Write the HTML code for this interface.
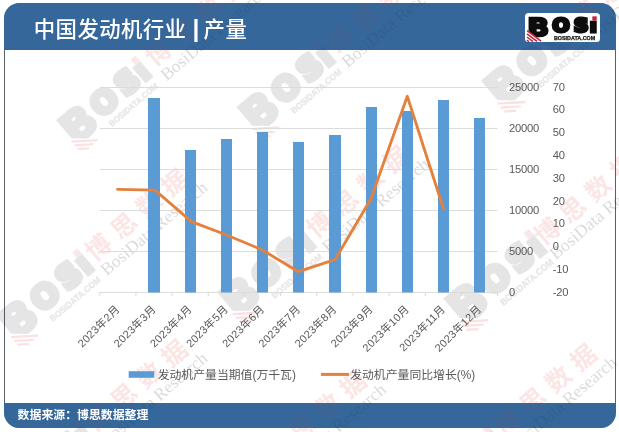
<!DOCTYPE html>
<html lang="zh-CN">
<head>
<meta charset="utf-8">
<title>中国发动机行业 | 产量</title>
<style>
html,body{margin:0;padding:0;background:#fff;}
body{width:619px;height:432px;position:relative;overflow:hidden;font-family:"Liberation Sans","Noto Sans CJK SC",sans-serif;}
.card{position:absolute;left:4px;top:3px;width:612px;height:424.5px;border-radius:15.5px;overflow:hidden;background:#fff;}
.hdr{position:absolute;left:0;top:0;width:612px;height:46.9px;background:#35679a;}
.ftr{position:absolute;left:0;top:400px;width:612px;height:24.5px;background:#35679a;}
.over{background:transparent;}
.over .hdr,.over .ftr{background:rgba(53,103,154,0.5);}
.bl{position:absolute;top:46px;height:355px;width:1.1px;background:#5a6068;}
.title{position:absolute;left:33.8px;top:14.2px;color:#fff;font-size:21.4px;line-height:32px;white-space:nowrap;font-weight:500;letter-spacing:0.4px;}
.bar{display:inline-block;font-weight:700;transform:scale(1.15,1.12);transform-origin:50% 60%;margin-left:0.4px;margin-right:-2.2px;}
.src{position:absolute;left:17.6px;top:405px;color:#fff;font-size:11.9px;line-height:20px;font-weight:700;white-space:nowrap;}
svg{position:absolute;left:0;top:0;}
.base{z-index:0;}
.wm{z-index:2;}
.over{z-index:3;}
.chart{z-index:4;}
.title,.logo,.src{z-index:5;}
.ax{font-size:11.2px;letter-spacing:-0.25px;fill:#595959;font-family:"Liberation Sans",sans-serif;}
.cat{font-size:10.9px;letter-spacing:0.3px;fill:#595959;font-family:"Liberation Sans","Noto Sans CJK SC",sans-serif;}
.lg{font-size:11.85px;fill:#595959;font-family:"Liberation Sans","Noto Sans CJK SC",sans-serif;}
.wc{font-family:"Noto Sans CJK SC","Liberation Sans",sans-serif;font-weight:700;font-size:25px;letter-spacing:8.3px;fill:#e03030;fill-opacity:0.125;}
.wr{font-family:"Liberation Serif",serif;font-size:17.5px;fill:#000;fill-opacity:0.15;}
.logo{position:absolute;left:525px;top:12.7px;width:75.4px;height:28.9px;background:#fff;border-radius:3.5px;overflow:hidden;}
.logo svg{left:0;top:0;}
</style>
</head>
<body>
<div class="card base">
  <div class="hdr"></div>
  <div class="ftr"></div>
  <div class="bl" style="left:0"></div>
  <div class="bl" style="right:0"></div>
</div>
<div class="title">中国发动机行业 <span class="bar">|</span> 产量</div>
<div class="logo">
<svg width="76" height="30" viewBox="0 0 76 30">
<text x="2.2" y="23.2" font-family="DejaVu Sans, Liberation Sans, sans-serif" font-weight="700" font-size="25.5" fill="#0c0c0c" stroke="#0c0c0c" stroke-width="2.4" stroke-linejoin="miter" textLength="22" lengthAdjust="spacingAndGlyphs" clip-path="url(#bcut)">B</text>
<text transform="scale(1.1,1)" x="5.4 24.66 44.24 58.8" y="18.9" font-family="DejaVu Sans, Liberation Sans, sans-serif" font-weight="700" font-size="18.7" fill="url(#lp)" stroke="url(#lp)" stroke-width="3" stroke-linejoin="miter" clip-path="url(#ocut)">BOSi</text>
<text x="28.9" y="27.4" font-family="Liberation Sans, sans-serif" font-weight="700" font-size="5.6" fill="#111" stroke="#111" stroke-width="0.25" textLength="41.4" lengthAdjust="spacingAndGlyphs">BOSIDATA.COM</text>
<g stroke="#c2283a" stroke-width="1.5">
<line x1="2" y1="17.6" x2="16" y2="28.2"/>
<line x1="2" y1="20.8" x2="12" y2="28.4"/>
<line x1="2" y1="24" x2="8" y2="28.6"/>
<line x1="2" y1="27.2" x2="4" y2="28.8"/>
</g>
</svg>
</div>
<svg class="chart" width="619" height="432" viewBox="0 0 619 432">
<line x1="99.75" y1="87.50" x2="497.5" y2="87.50" stroke="#dcdcdc" stroke-width="1"/>
<line x1="99.75" y1="128.50" x2="497.5" y2="128.50" stroke="#dcdcdc" stroke-width="1"/>
<line x1="99.75" y1="169.50" x2="497.5" y2="169.50" stroke="#dcdcdc" stroke-width="1"/>
<line x1="99.75" y1="210.50" x2="497.5" y2="210.50" stroke="#dcdcdc" stroke-width="1"/>
<line x1="99.75" y1="251.50" x2="497.5" y2="251.50" stroke="#dcdcdc" stroke-width="1"/>
<line x1="99.75" y1="292.50" x2="497.5" y2="292.50" stroke="#dcdcdc" stroke-width="1"/>
<line x1="99.75" y1="292.5" x2="99.75" y2="296.0" stroke="#d9d9d9" stroke-width="1"/>
<line x1="135.92" y1="292.5" x2="135.92" y2="296.0" stroke="#d9d9d9" stroke-width="1"/>
<line x1="172.09" y1="292.5" x2="172.09" y2="296.0" stroke="#d9d9d9" stroke-width="1"/>
<line x1="208.26" y1="292.5" x2="208.26" y2="296.0" stroke="#d9d9d9" stroke-width="1"/>
<line x1="244.43" y1="292.5" x2="244.43" y2="296.0" stroke="#d9d9d9" stroke-width="1"/>
<line x1="280.60" y1="292.5" x2="280.60" y2="296.0" stroke="#d9d9d9" stroke-width="1"/>
<line x1="316.77" y1="292.5" x2="316.77" y2="296.0" stroke="#d9d9d9" stroke-width="1"/>
<line x1="352.94" y1="292.5" x2="352.94" y2="296.0" stroke="#d9d9d9" stroke-width="1"/>
<line x1="389.11" y1="292.5" x2="389.11" y2="296.0" stroke="#d9d9d9" stroke-width="1"/>
<line x1="425.28" y1="292.5" x2="425.28" y2="296.0" stroke="#d9d9d9" stroke-width="1"/>
<line x1="461.45" y1="292.5" x2="461.45" y2="296.0" stroke="#d9d9d9" stroke-width="1"/>
<line x1="497.62" y1="292.5" x2="497.62" y2="296.0" stroke="#d9d9d9" stroke-width="1"/>
<rect x="148" y="98" width="12" height="194.50" fill="#5b9bd5"/>
<rect x="185" y="150" width="11" height="142.50" fill="#5b9bd5"/>
<rect x="221" y="139" width="11" height="153.50" fill="#5b9bd5"/>
<rect x="257" y="132" width="11" height="160.50" fill="#5b9bd5"/>
<rect x="293" y="142" width="11" height="150.50" fill="#5b9bd5"/>
<rect x="329" y="135" width="12" height="157.50" fill="#5b9bd5"/>
<rect x="366" y="107" width="11" height="185.50" fill="#5b9bd5"/>
<rect x="402" y="111" width="11" height="181.50" fill="#5b9bd5"/>
<rect x="438" y="100" width="11" height="192.50" fill="#5b9bd5"/>
<rect x="474" y="118" width="11" height="174.50" fill="#5b9bd5"/>
<polyline points="117.6,189.4 155.0,190.2 191.4,221.6 226.6,235 262.4,250 298.3,271.7 335.0,259.7 370.8,199 407.3,96.3 443.4,208.5" fill="none" stroke="#e5813c" stroke-width="2.85" stroke-linejoin="round" stroke-linecap="round"/>
<text x="509.1" y="90.70" class="ax">25000</text>
<text x="509.1" y="131.70" class="ax">20000</text>
<text x="509.1" y="172.70" class="ax">15000</text>
<text x="509.1" y="213.70" class="ax">10000</text>
<text x="509.1" y="254.70" class="ax">5000</text>
<text x="509.1" y="295.70" class="ax">0</text>
<text x="552.7" y="90.70" class="ax">70</text>
<text x="552.7" y="113.48" class="ax">60</text>
<text x="552.7" y="136.26" class="ax">50</text>
<text x="552.7" y="159.03" class="ax">40</text>
<text x="552.7" y="181.81" class="ax">30</text>
<text x="552.7" y="204.59" class="ax">20</text>
<text x="552.7" y="227.37" class="ax">10</text>
<text x="552.7" y="250.14" class="ax">0</text>
<text x="552.7" y="272.92" class="ax">-10</text>
<text x="552.7" y="295.70" class="ax">-20</text>
<text transform="translate(120.44,309.8) rotate(-45)" text-anchor="end" class="cat">2023年2月</text>
<text transform="translate(156.60,309.8) rotate(-45)" text-anchor="end" class="cat">2023年3月</text>
<text transform="translate(192.78,309.8) rotate(-45)" text-anchor="end" class="cat">2023年4月</text>
<text transform="translate(228.94,309.8) rotate(-45)" text-anchor="end" class="cat">2023年5月</text>
<text transform="translate(265.12,309.8) rotate(-45)" text-anchor="end" class="cat">2023年6月</text>
<text transform="translate(301.29,309.8) rotate(-45)" text-anchor="end" class="cat">2023年7月</text>
<text transform="translate(337.46,309.8) rotate(-45)" text-anchor="end" class="cat">2023年8月</text>
<text transform="translate(373.63,309.8) rotate(-45)" text-anchor="end" class="cat">2023年9月</text>
<text transform="translate(409.80,309.8) rotate(-45)" text-anchor="end" class="cat">2023年10月</text>
<text transform="translate(445.97,309.8) rotate(-45)" text-anchor="end" class="cat">2023年11月</text>
<text transform="translate(482.14,309.8) rotate(-45)" text-anchor="end" class="cat">2023年12月</text>
<rect x="128.7" y="371.2" width="25.6" height="6.6" fill="#5b9bd5"/>
<text x="157.7" y="379.3" class="lg">发动机产量当期值(万千瓦)</text>
<line x1="321" y1="374.4" x2="348.9" y2="374.4" stroke="#e5813c" stroke-width="3"/>
<text x="350.2" y="379.3" class="lg">发动机产量同比增长(%)</text>
</svg>
<div class="src">数据来源：博思数据整理</div>
<svg class="wm" width="619" height="432" viewBox="0 0 619 432">
<defs><clipPath id="bcut"><polygon points="0,-5 80,-5 80,35 25.4,35 0,15.2"/></clipPath><clipPath id="bcut2"><polygon points="0,-8 80,-8 80,34 25.4,33.5 0,13.7"/></clipPath><clipPath id="ocut"><rect x="22.4" y="-10" width="90" height="60"/></clipPath><pattern id="lp" patternUnits="userSpaceOnUse" x="0" y="0" width="200" height="100"><rect x="0" y="0" width="58.4" height="100" fill="#0c0c0c"/><rect x="58.4" y="7.7" width="100" height="90" fill="#0c0c0c"/><rect x="61.4" y="3.3" width="4" height="4.4" fill="#c2283a"/></pattern></defs>
<g transform="translate(80,126) rotate(-40.5)">
<g transform="scale(1.5) translate(-13.1,-13.4)">
<g opacity="0.10">
<g transform="translate(0,20.5) scale(1,1.1) translate(0,-20.5)"><text x="2.2" y="21.7" font-family="DejaVu Sans, Liberation Sans, sans-serif" font-weight="700" font-size="25.5" fill="#0c0c0c" stroke="#0c0c0c" stroke-width="2.4" stroke-linejoin="miter" textLength="22" lengthAdjust="spacingAndGlyphs" clip-path="url(#bcut2)">B</text>
<text transform="scale(1.1,1)" x="5.4 24.66 44.24 58.8" y="18.9" font-family="DejaVu Sans, Liberation Sans, sans-serif" font-weight="700" font-size="18.7" fill="url(#lp)" stroke="url(#lp)" stroke-width="3" stroke-linejoin="miter" clip-path="url(#ocut)">BOSi</text></g>
<text x="28.9" y="27.8" font-family="Liberation Sans, sans-serif" font-weight="700" font-size="5.7" fill="#000" stroke="#000" stroke-width="0.2" textLength="41" lengthAdjust="spacingAndGlyphs">BOSIDATA.COM</text>
</g>
<g stroke="#d22" stroke-opacity="0.13" stroke-width="1.5"><line x1="2" y1="17.6" x2="16" y2="28.2"/><line x1="2" y1="20.8" x2="12" y2="28.4"/><line x1="2" y1="24" x2="8" y2="28.6"/></g>
</g>
<text x="95" y="4" class="wc">博思数据</text>
<text x="95" y="22.3" class="wr" textLength="134" lengthAdjust="spacingAndGlyphs">BosiData Research</text>
</g>
<g transform="translate(261,113) rotate(-40.5)">
<g transform="scale(1.55) translate(-13.1,-13.4)">
<g opacity="0.10">
<g transform="translate(0,20.5) scale(1,1.1) translate(0,-20.5)"><text x="2.2" y="21.7" font-family="DejaVu Sans, Liberation Sans, sans-serif" font-weight="700" font-size="25.5" fill="#0c0c0c" stroke="#0c0c0c" stroke-width="2.4" stroke-linejoin="miter" textLength="22" lengthAdjust="spacingAndGlyphs" clip-path="url(#bcut2)">B</text>
<text transform="scale(1.1,1)" x="5.4 24.66 44.24 58.8" y="18.9" font-family="DejaVu Sans, Liberation Sans, sans-serif" font-weight="700" font-size="18.7" fill="url(#lp)" stroke="url(#lp)" stroke-width="3" stroke-linejoin="miter" clip-path="url(#ocut)">BOSi</text></g>
<text x="28.9" y="27.8" font-family="Liberation Sans, sans-serif" font-weight="700" font-size="5.7" fill="#000" stroke="#000" stroke-width="0.2" textLength="41" lengthAdjust="spacingAndGlyphs">BOSIDATA.COM</text>
</g>
<g stroke="#d22" stroke-opacity="0.13" stroke-width="1.5"><line x1="2" y1="17.6" x2="16" y2="28.2"/><line x1="2" y1="20.8" x2="12" y2="28.4"/><line x1="2" y1="24" x2="8" y2="28.6"/></g>
</g>
<text x="95" y="4" class="wc">博思数据</text>
<text x="95" y="22.3" class="wr" textLength="134" lengthAdjust="spacingAndGlyphs">BosiData Research</text>
</g>
<g transform="translate(20,321) rotate(-40.5)">
<g transform="scale(1.55) translate(-13.1,-13.4)">
<g opacity="0.10">
<g transform="translate(0,20.5) scale(1,1.1) translate(0,-20.5)"><text x="2.2" y="21.7" font-family="DejaVu Sans, Liberation Sans, sans-serif" font-weight="700" font-size="25.5" fill="#0c0c0c" stroke="#0c0c0c" stroke-width="2.4" stroke-linejoin="miter" textLength="22" lengthAdjust="spacingAndGlyphs" clip-path="url(#bcut2)">B</text>
<text transform="scale(1.1,1)" x="5.4 24.66 44.24 58.8" y="18.9" font-family="DejaVu Sans, Liberation Sans, sans-serif" font-weight="700" font-size="18.7" fill="url(#lp)" stroke="url(#lp)" stroke-width="3" stroke-linejoin="miter" clip-path="url(#ocut)">BOSi</text></g>
<text x="28.9" y="27.8" font-family="Liberation Sans, sans-serif" font-weight="700" font-size="5.7" fill="#000" stroke="#000" stroke-width="0.2" textLength="41" lengthAdjust="spacingAndGlyphs">BOSIDATA.COM</text>
</g>
<g stroke="#d22" stroke-opacity="0.13" stroke-width="1.5"><line x1="2" y1="17.6" x2="16" y2="28.2"/><line x1="2" y1="20.8" x2="12" y2="28.4"/><line x1="2" y1="24" x2="8" y2="28.6"/></g>
</g>
<text x="95" y="4" class="wc">博思数据</text>
<text x="95" y="22.3" class="wr" textLength="134" lengthAdjust="spacingAndGlyphs">BosiData Research</text>
</g>
<g transform="translate(241.5,298) rotate(-40.5)">
<g transform="scale(1.55) translate(-13.1,-13.4)">
<g opacity="0.10">
<g transform="translate(0,20.5) scale(1,1.1) translate(0,-20.5)"><text x="2.2" y="21.7" font-family="DejaVu Sans, Liberation Sans, sans-serif" font-weight="700" font-size="25.5" fill="#0c0c0c" stroke="#0c0c0c" stroke-width="2.4" stroke-linejoin="miter" textLength="22" lengthAdjust="spacingAndGlyphs" clip-path="url(#bcut2)">B</text>
<text transform="scale(1.1,1)" x="5.4 24.66 44.24 58.8" y="18.9" font-family="DejaVu Sans, Liberation Sans, sans-serif" font-weight="700" font-size="18.7" fill="url(#lp)" stroke="url(#lp)" stroke-width="3" stroke-linejoin="miter" clip-path="url(#ocut)">BOSi</text></g>
<text x="28.9" y="27.8" font-family="Liberation Sans, sans-serif" font-weight="700" font-size="5.7" fill="#000" stroke="#000" stroke-width="0.2" textLength="41" lengthAdjust="spacingAndGlyphs">BOSIDATA.COM</text>
</g>
<g stroke="#d22" stroke-opacity="0.13" stroke-width="1.5"><line x1="2" y1="17.6" x2="16" y2="28.2"/><line x1="2" y1="20.8" x2="12" y2="28.4"/><line x1="2" y1="24" x2="8" y2="28.6"/></g>
</g>
<text x="95" y="4" class="wc">博思数据</text>
<text x="95" y="22.3" class="wr" textLength="134" lengthAdjust="spacingAndGlyphs">BosiData Research</text>
</g>
<g transform="translate(506.5,87) rotate(-40.5)">
<g transform="scale(1.6) translate(-13.1,-13.4)">
<g opacity="0.10">
<g transform="translate(0,20.5) scale(1,1.1) translate(0,-20.5)"><text x="2.2" y="21.7" font-family="DejaVu Sans, Liberation Sans, sans-serif" font-weight="700" font-size="25.5" fill="#0c0c0c" stroke="#0c0c0c" stroke-width="2.4" stroke-linejoin="miter" textLength="22" lengthAdjust="spacingAndGlyphs" clip-path="url(#bcut2)">B</text>
<text transform="scale(1.1,1)" x="5.4 24.66 44.24 58.8" y="18.9" font-family="DejaVu Sans, Liberation Sans, sans-serif" font-weight="700" font-size="18.7" fill="url(#lp)" stroke="url(#lp)" stroke-width="3" stroke-linejoin="miter" clip-path="url(#ocut)">BOSi</text></g>
<text x="28.9" y="27.8" font-family="Liberation Sans, sans-serif" font-weight="700" font-size="5.7" fill="#000" stroke="#000" stroke-width="0.2" textLength="41" lengthAdjust="spacingAndGlyphs">BOSIDATA.COM</text>
</g>
<g stroke="#d22" stroke-opacity="0.13" stroke-width="1.5"><line x1="2" y1="17.6" x2="16" y2="28.2"/><line x1="2" y1="20.8" x2="12" y2="28.4"/><line x1="2" y1="24" x2="8" y2="28.6"/></g>
</g>
<text x="95" y="4" class="wc">博思数据</text>
<text x="95" y="22.3" class="wr" textLength="134" lengthAdjust="spacingAndGlyphs">BosiData Research</text>
</g>
<g transform="translate(469,305) rotate(-40.5)">
<g transform="scale(1.62) translate(-13.1,-13.4)">
<g opacity="0.10">
<g transform="translate(0,20.5) scale(1,1.1) translate(0,-20.5)"><text x="2.2" y="21.7" font-family="DejaVu Sans, Liberation Sans, sans-serif" font-weight="700" font-size="25.5" fill="#0c0c0c" stroke="#0c0c0c" stroke-width="2.4" stroke-linejoin="miter" textLength="22" lengthAdjust="spacingAndGlyphs" clip-path="url(#bcut2)">B</text>
<text transform="scale(1.1,1)" x="5.4 24.66 44.24 58.8" y="18.9" font-family="DejaVu Sans, Liberation Sans, sans-serif" font-weight="700" font-size="18.7" fill="url(#lp)" stroke="url(#lp)" stroke-width="3" stroke-linejoin="miter" clip-path="url(#ocut)">BOSi</text></g>
<text x="28.9" y="27.8" font-family="Liberation Sans, sans-serif" font-weight="700" font-size="5.7" fill="#000" stroke="#000" stroke-width="0.2" textLength="41" lengthAdjust="spacingAndGlyphs">BOSIDATA.COM</text>
</g>
<g stroke="#d22" stroke-opacity="0.13" stroke-width="1.5"><line x1="2" y1="17.6" x2="16" y2="28.2"/><line x1="2" y1="20.8" x2="12" y2="28.4"/><line x1="2" y1="24" x2="8" y2="28.6"/></g>
</g>
<text x="95" y="4" class="wc">博思数据</text>
<text x="95" y="22.3" class="wr" textLength="134" lengthAdjust="spacingAndGlyphs">BosiData Research</text>
</g>
<g transform="translate(20,491.7) rotate(-40.5)">
<g transform="scale(1.55) translate(-13.1,-13.4)">
<g opacity="0.10">
<g transform="translate(0,20.5) scale(1,1.1) translate(0,-20.5)"><text x="2.2" y="21.7" font-family="DejaVu Sans, Liberation Sans, sans-serif" font-weight="700" font-size="25.5" fill="#0c0c0c" stroke="#0c0c0c" stroke-width="2.4" stroke-linejoin="miter" textLength="22" lengthAdjust="spacingAndGlyphs" clip-path="url(#bcut2)">B</text>
<text transform="scale(1.1,1)" x="5.4 24.66 44.24 58.8" y="18.9" font-family="DejaVu Sans, Liberation Sans, sans-serif" font-weight="700" font-size="18.7" fill="url(#lp)" stroke="url(#lp)" stroke-width="3" stroke-linejoin="miter" clip-path="url(#ocut)">BOSi</text></g>
<text x="28.9" y="27.8" font-family="Liberation Sans, sans-serif" font-weight="700" font-size="5.7" fill="#000" stroke="#000" stroke-width="0.2" textLength="41" lengthAdjust="spacingAndGlyphs">BOSIDATA.COM</text>
</g>
<g stroke="#d22" stroke-opacity="0.13" stroke-width="1.5"><line x1="2" y1="17.6" x2="16" y2="28.2"/><line x1="2" y1="20.8" x2="12" y2="28.4"/><line x1="2" y1="24" x2="8" y2="28.6"/></g>
</g>
<text x="95" y="4" class="wc">博思数据</text>
<text x="95" y="22.3" class="wr" textLength="134" lengthAdjust="spacingAndGlyphs">BosiData Research</text>
</g>
<g transform="translate(198.5,523) rotate(-40.5)">
<g transform="scale(1.55) translate(-13.1,-13.4)">
<g opacity="0.10">
<g transform="translate(0,20.5) scale(1,1.1) translate(0,-20.5)"><text x="2.2" y="21.7" font-family="DejaVu Sans, Liberation Sans, sans-serif" font-weight="700" font-size="25.5" fill="#0c0c0c" stroke="#0c0c0c" stroke-width="2.4" stroke-linejoin="miter" textLength="22" lengthAdjust="spacingAndGlyphs" clip-path="url(#bcut2)">B</text>
<text transform="scale(1.1,1)" x="5.4 24.66 44.24 58.8" y="18.9" font-family="DejaVu Sans, Liberation Sans, sans-serif" font-weight="700" font-size="18.7" fill="url(#lp)" stroke="url(#lp)" stroke-width="3" stroke-linejoin="miter" clip-path="url(#ocut)">BOSi</text></g>
<text x="28.9" y="27.8" font-family="Liberation Sans, sans-serif" font-weight="700" font-size="5.7" fill="#000" stroke="#000" stroke-width="0.2" textLength="41" lengthAdjust="spacingAndGlyphs">BOSIDATA.COM</text>
</g>
<g stroke="#d22" stroke-opacity="0.13" stroke-width="1.5"><line x1="2" y1="17.6" x2="16" y2="28.2"/><line x1="2" y1="20.8" x2="12" y2="28.4"/><line x1="2" y1="24" x2="8" y2="28.6"/></g>
</g>
<text x="95" y="4" class="wc">博思数据</text>
<text x="95" y="22.3" class="wr" textLength="134" lengthAdjust="spacingAndGlyphs">BosiData Research</text>
</g>
<g transform="translate(429,496) rotate(-40.5)">
<g transform="scale(1.55) translate(-13.1,-13.4)">
<g opacity="0.10">
<g transform="translate(0,20.5) scale(1,1.1) translate(0,-20.5)"><text x="2.2" y="21.7" font-family="DejaVu Sans, Liberation Sans, sans-serif" font-weight="700" font-size="25.5" fill="#0c0c0c" stroke="#0c0c0c" stroke-width="2.4" stroke-linejoin="miter" textLength="22" lengthAdjust="spacingAndGlyphs" clip-path="url(#bcut2)">B</text>
<text transform="scale(1.1,1)" x="5.4 24.66 44.24 58.8" y="18.9" font-family="DejaVu Sans, Liberation Sans, sans-serif" font-weight="700" font-size="18.7" fill="url(#lp)" stroke="url(#lp)" stroke-width="3" stroke-linejoin="miter" clip-path="url(#ocut)">BOSi</text></g>
<text x="28.9" y="27.8" font-family="Liberation Sans, sans-serif" font-weight="700" font-size="5.7" fill="#000" stroke="#000" stroke-width="0.2" textLength="41" lengthAdjust="spacingAndGlyphs">BOSIDATA.COM</text>
</g>
<g stroke="#d22" stroke-opacity="0.13" stroke-width="1.5"><line x1="2" y1="17.6" x2="16" y2="28.2"/><line x1="2" y1="20.8" x2="12" y2="28.4"/><line x1="2" y1="24" x2="8" y2="28.6"/></g>
</g>
<text x="95" y="4" class="wc">博思数据</text>
<text x="95" y="22.3" class="wr" textLength="134" lengthAdjust="spacingAndGlyphs">BosiData Research</text>
</g>
</svg>
<div class="card over">
  <div class="hdr"></div>
  <div class="ftr"></div>
</div>
</body>
</html>
